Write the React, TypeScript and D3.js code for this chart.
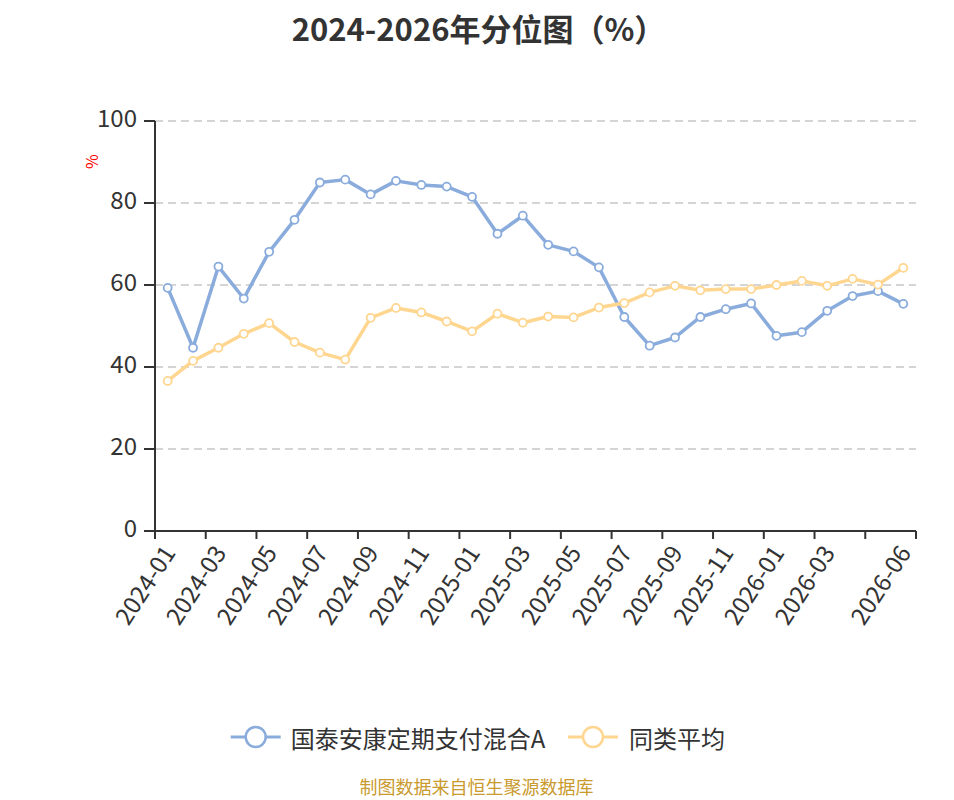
import * as d3 from "d3";

const FONT = "'Noto Sans CJK SC', 'Noto Sans', sans-serif";
const WIDTH = 938;
const HEIGHT = 792;
const MARGIN = { top: 113, right: 30, bottom: 269, left: 147 };

const months = [
  "2024-01", "2024-02", "2024-03", "2024-04", "2024-05", "2024-06",
  "2024-07", "2024-08", "2024-09", "2024-10", "2024-11", "2024-12",
  "2025-01", "2025-02", "2025-03", "2025-04", "2025-05", "2025-06",
  "2025-07", "2025-08", "2025-09", "2025-10", "2025-11", "2025-12",
  "2026-01", "2026-02", "2026-03", "2026-04", "2026-05", "2026-06",
];

// 国泰安康定期支付混合A
const fundValues = [
  59.3, 44.7, 64.5, 56.7, 68.1, 75.9, 85.0, 85.7, 82.1, 85.4,
  84.4, 84.0, 81.5, 72.5, 76.9, 69.8, 68.2, 64.3, 52.2, 45.2,
  47.2, 52.2, 54.1, 55.5, 47.6, 48.5, 53.7, 57.3, 58.5, 55.4,
];

// 同类平均
const avgValues = [
  36.6, 41.5, 44.7, 48.1, 50.7, 46.1, 43.5, 41.8, 52.0, 54.4,
  53.3, 51.1, 48.7, 53.0, 50.8, 52.3, 52.1, 54.5, 55.6, 58.2,
  59.8, 58.7, 59.0, 59.0, 60.0, 61.0, 59.8, 61.5, 60.1, 64.2,
];

const yTicks = [0, 20, 40, 60, 80, 100];

const series = [
  { name: "国泰安康定期支付混合A", values: fundValues, color: "#8aacdd" },
  { name: "同类平均", values: avgValues, color: "#ffd690" },
];

export default function App() {
  const x0 = MARGIN.left;
  const x1 = WIDTH - MARGIN.right; // 908
  const y0 = HEIGHT - MARGIN.bottom; // 523
  const y1 = MARGIN.top;

  const xScale = d3.scaleBand<string>().domain(months).range([x0, x1]).padding(0);
  const yScale = d3.scaleLinear().domain([0, 100]).range([y0, y1]);
  const bw = xScale.bandwidth();
  const cx = (m: string) => (xScale(m) ?? 0) + bw / 2;

  const line = d3
    .line<number>()
    .x((_, i) => cx(months[i]))
    .y((d) => yScale(d));

  // every second month gets a tick; the last month is labelled too,
  // and the label just before it is dropped because it would overlap
  const last = months.length - 1;
  const tickIdx = months.map((_, i) => i).filter((i) => i % 2 === 0);
  const labelIdx = tickIdx.filter((i) => i < last - 2).concat([last]);

  const legendY = 729;
  const legendItems = [
    { s: series[0], lx: 222.7, tx: 282.7 },
    { s: series[1], lx: 560, tx: 621 },
  ];

  return (
    <svg
      width={WIDTH}
      height={HEIGHT}
      style={{ display: "block", fontFamily: FONT, overflow: "visible" }}
    >
      <text
        x={470.5}
        y={33}
        textAnchor="middle"
        fontSize={31}
        fontWeight="bold"
        fill="#333"
      >
        2024-2026年分位图（%）
      </text>

      {/* grid */}
      {yTicks.filter((t) => t > 0).map((t) => (
        <line
          key={"g" + t}
          x1={x0}
          x2={x1}
          y1={yScale(t)}
          y2={yScale(t)}
          stroke="#c8c8c8"
          strokeWidth={1.6}
          strokeDasharray="8,5"
        />
      ))}

      {/* y axis */}
      <line x1={x0} x2={x0} y1={y1} y2={y0} stroke="#333" strokeWidth={2} />
      {yTicks.map((t) => (
        <g key={"y" + t}>
          <line x1={x0 - 11} x2={x0} y1={yScale(t)} y2={yScale(t)} stroke="#333" strokeWidth={2} />
          <text
            x={x0 - 18}
            y={yScale(t) + 6}
            textAnchor="end"
            fontSize={24}
            fill="#333"
          >
            {t}
          </text>
        </g>
      ))}
      <text
        transform={`translate(82.5,153.5) rotate(-90)`}
        textAnchor="middle"
        dominantBaseline="central"
        fontSize={16}
        fill="red"
      >
        %
      </text>

      {/* x axis */}
      <line x1={x0} x2={x1} y1={y0} y2={y0} stroke="#333" strokeWidth={2} />
      {tickIdx.map((i) => (
        <line
          key={"t" + i}
          x1={xScale(months[i])}
          x2={xScale(months[i])}
          y1={y0}
          y2={y0 + 8}
          stroke="#333"
          strokeWidth={2}
        />
      ))}
      <line x1={x1} x2={x1} y1={y0} y2={y0 + 8} stroke="#333" strokeWidth={2} />
      {labelIdx.map((i) => (
        <text
          key={"l" + i}
          transform={`translate(${cx(months[i])},${y0 + 16}) rotate(-57)`}
          textAnchor="end"
          dominantBaseline="central"
          fontSize={24}
          fill="#333"
        >
          {months[i]}
        </text>
      ))}

      {/* lines */}
      {series.map((s) => (
        <g key={s.name}>
          <path
            d={line(s.values) || ""}
            fill="none"
            stroke={s.color}
            strokeWidth={3.5}
            strokeLinejoin="round"
          />
          {s.values.map((v, i) => (
            <circle
              key={i}
              cx={cx(months[i])}
              cy={yScale(v)}
              r={4}
              fill="#fff"
              stroke={s.color}
              strokeWidth={1.8}
            />
          ))}
        </g>
      ))}

      {/* legend */}
      {legendItems.map(({ s, lx, tx }) => (
        <g key={"lg" + s.name}>
          <line x1={lx} x2={lx + 50} y1={legendY} y2={legendY} stroke={s.color} strokeWidth={3} />
          <circle cx={lx + 25} cy={legendY} r={10} fill="#fff" stroke={s.color} strokeWidth={2.5} />
          <text x={tx} y={legendY} dominantBaseline="central" fontSize={24} fill="#333">
            {s.name}
          </text>
        </g>
      ))}

      <text
        x={468.5}
        y={778}
        textAnchor="middle"
        dominantBaseline="central"
        fontSize={18}
        fill="#c99a2e"
      >
        制图数据来自恒生聚源数据库
      </text>
    </svg>
  );
}
